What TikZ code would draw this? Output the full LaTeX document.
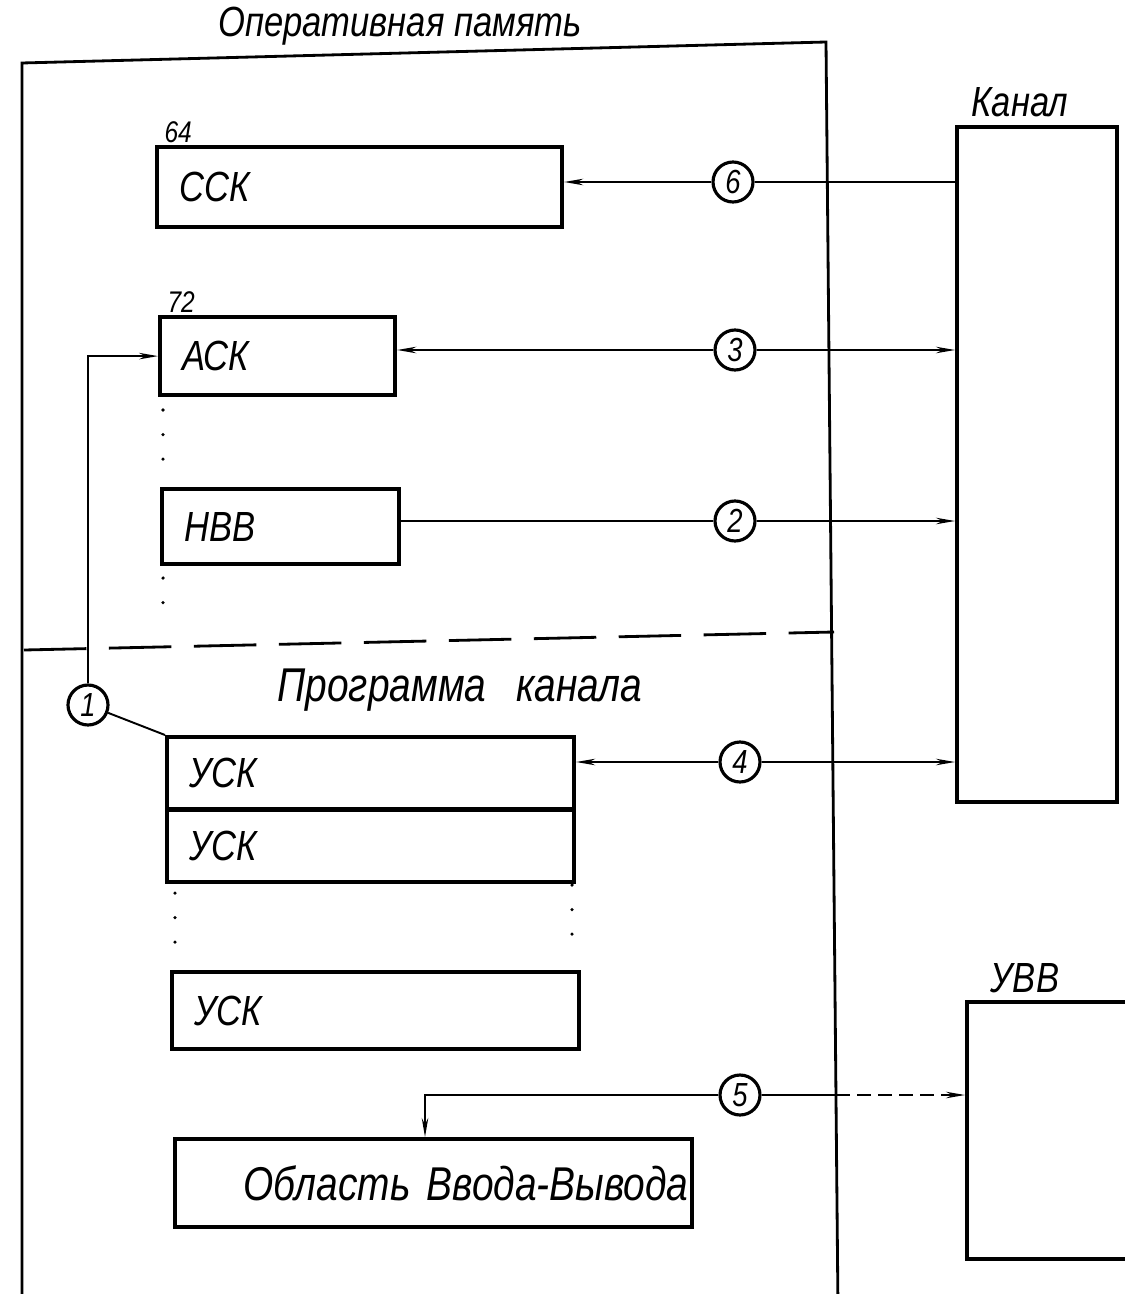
\documentclass[tikz,border=0pt]{standalone}
\usepackage{fontspec}
\setmainfont{Liberation Sans}[FakeStretch=0.82]
\usetikzlibrary{arrows.meta,positioning,calc}

\begin{document}
\begin{tikzpicture}[x=0.02cm, y=-0.02cm,
  hand/.style={font=\itshape\fontsize{24}{26}\selectfont},
  small/.style={font=\itshape\fontsize{17}{18}\selectfont, inner sep=1pt},
  block/.style={rectangle, draw, line width=2.4pt, anchor=north west,
    align=left, inner xsep=0.45cm, inner ysep=0pt, hand},
  frame/.style={line width=1.6pt},
  num/.style={circle, draw, line width=1.8pt, minimum size=0.8cm,
    inner sep=0pt, font=\itshape\fontsize{19}{20}\selectfont},
  arrow/.style={line width=1.1pt, >={Stealth[length=0.38cm,width=0.13cm]}},
  dots/.style={line width=2pt, line cap=round, dash pattern=on 0pt off 14pt}]
  \useasboundingbox (0,0) rectangle (1125,1294);

  % main memory
  \draw[frame] (22,1310) -- (22,63) -- (826,42) -- (838,1310);
  \draw[frame, dash pattern=on 1.25cm off 0.45cm] (24,650) -- (834,632);
  \node[hand] (ram) at (400,26) {Оперативная память};

  \node[block, text width=7.2cm, minimum height=1.6cm] (ssk) at (155,145) {ССК};
  \node[small, anchor=south west] (a64) at ([xshift=0.15cm]ssk.north west) {64};
  \node[block, text width=3.8cm, minimum height=1.56cm] (ask) at (158,315) {АСК};
  \node[small, anchor=south west] (a72) at ([xshift=0.15cm]ask.north west) {72};
  \node[block, text width=3.84cm, minimum height=1.5cm] (nvv) at (160,487) {НВВ};
  \draw[dots] (163,410) -- (163,470);
  \draw[dots] (163,578) -- (163,625);

  % channel program
  \node[hand, font=\itshape\fontsize{27}{29}\selectfont] (prog) at (460,690)
    {Программа\hspace{0.6cm}канала};
  \node[block, text width=7.24cm, minimum height=1.45cm] (usk1) at (165,735) {УСК};
  \node[block, text width=7.24cm, minimum height=1.45cm] (usk2)
    at ([yshift=2.4pt]usk1.south west) {УСК};
  \draw[dots] (175,893) -- (175,955);
  \draw[dots] (572,885) -- (572,950);
  \node[block, text width=7.24cm, minimum height=1.54cm] (usk3) at (170,970) {УСК};
  \node[block, text width=10.2cm, minimum height=1.76cm, align=right,
    inner xsep=0.07cm, font=\itshape\fontsize{27}{29}\selectfont] (obl)
    at (173,1137) {Область Ввода-Вывода};

  % channel and device
  \node[block, minimum width=3.2cm, minimum height=13.5cm] (kanal) at (955,125) {};
  \node[hand] (lkanal) at (1020,102) {Канал};
  \node[block, minimum width=3.6cm, minimum height=5.14cm] (uvv) at (965,1000) {};
  \node[hand] (luvv) at (1025,978) {УВВ};

  % numbered links
  \node[num] (c1) at (88,705) {1};
  \node[num] (c2) at (735,521) {2};
  \node[num] (c3) at (735,350) {3};
  \node[num] (c4) at (740,762) {4};
  \node[num] (c5) at (740,1095) {5};
  \node[num] (c6) at (733,182) {6};
  \coordinate (k5) at (425,1095);
  \coordinate (b5) at (836,1095);

  \draw[arrow, ->] (c1) |- (ask.west);
  \draw[arrow] (c1) -- (usk1.north west);
  \draw[arrow] (c2 -| nvv.east) -- (c2);
  \draw[arrow, ->] (c2) -- (c2 -| kanal.west);
  \draw[arrow, ->] (c3) -- (c3 -| ask.east);
  \draw[arrow, ->] (c3) -- (c3 -| kanal.west);
  \draw[arrow, ->] (c4) -- (c4 -| usk1.east);
  \draw[arrow, ->] (c4) -- (c4 -| kanal.west);
  \draw[arrow, ->] (c5) -- (k5) -- (k5 |- obl.north);
  \draw[arrow] (c5) -- (b5);
  \draw[arrow, ->, dash pattern=on 8pt off 4pt] (b5) -- (b5 -| uvv.west);
  \draw[arrow] (c6 -| kanal.west) -- (c6);
  \draw[arrow, ->] (c6) -- (c6 -| ssk.east);
\end{tikzpicture}
\end{document}
